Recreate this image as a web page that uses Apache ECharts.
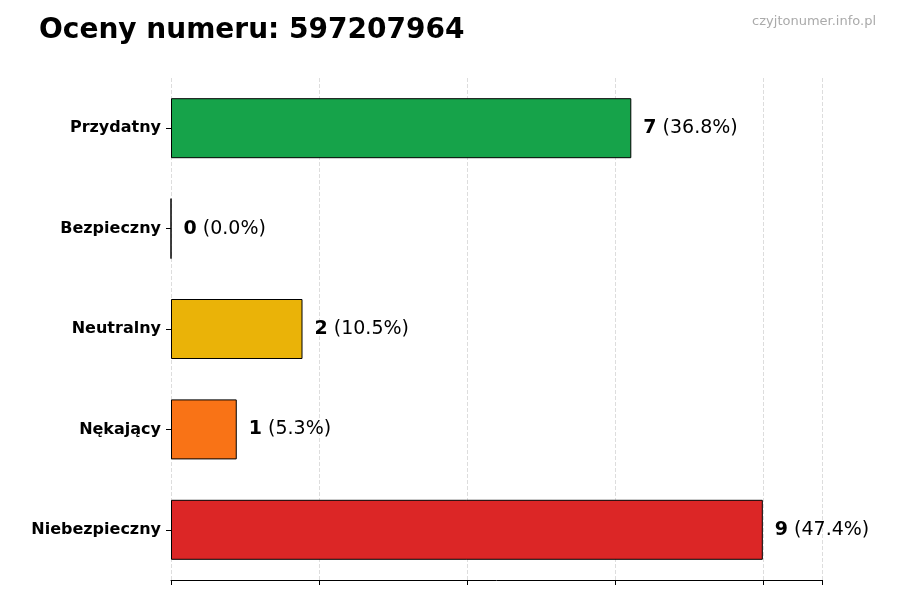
<!DOCTYPE html>
<html>
<head>
<meta charset="utf-8">
<script src="https://cdn.jsdelivr.net/npm/echarts@6/dist/echarts.min.js"></script>
<style>html,body{margin:0;background:#fff}#c{width:900px;height:600px}</style>
</head>
<body>
<div id="c"></div>
<script>
const kategorie = ['Przydatny', 'Bezpieczny', 'Neutralny', 'Nękający', 'Niebezpieczny'];
const liczby = [7, 0, 2, 1, 9];
const kolory = ['#16a34a', '#9ca3af', '#eab308', '#f97316', '#dc2626'];
const suma = liczby.reduce((a, b) => a + b, 0);

const chart = echarts.init(document.getElementById('c'));
chart.setOption({
  animation: false,
  title: [
    { text: 'Oceny numeru: 597207964', left: 34, top: 12,
      textStyle: { fontFamily: 'DejaVu Sans', fontSize: 28, fontWeight: 'bold', color: '#000' } },
    { text: 'czyjtonumer.info.pl', right: 19, top: 10,
      textStyle: { fontFamily: 'DejaVu Sans', fontSize: 13, fontWeight: 'normal', color: '#aaa' } }
  ],
  grid: { left: 171, right: 78, top: 78, bottom: 20 },
  xAxis: {
    type: 'value', min: 0, max: 9.9, interval: 2.25,
    axisLabel: { show: false },
    axisLine: { show: true, lineStyle: { color: '#000' } },
    axisTick: { show: true, length: 5, lineStyle: { color: '#000' } },
    splitLine: { show: true, lineStyle: { type: 'dashed', color: '#ddd' } }
  },
  yAxis: {
    type: 'category', inverse: true, data: kategorie,
    axisLine: { show: false },
    axisTick: { show: true, alignWithLabel: true, length: 5, lineStyle: { color: '#000' } },
    axisLabel: { fontFamily: 'DejaVu Sans', fontSize: 16, fontWeight: 'bold', color: '#000', margin: 10 }
  },
  series: [{
    type: 'bar', barWidth: 60,
    data: liczby.map((v, i) => ({ value: v, itemStyle: { color: kolory[i] } })),
    itemStyle: { borderColor: '#000', borderWidth: 1 },
    label: {
      show: true, position: 'right', distance: 12,
      formatter: p => '{b|' + p.value + '} (' + (p.value / suma * 100).toFixed(1) + '%)',
      fontFamily: 'DejaVu Sans', fontSize: 19, color: '#000',
      rich: { b: { fontFamily: 'DejaVu Sans', fontSize: 19, fontWeight: 'bold', color: '#000' } }
    }
  }]
});
</script>
</body>
</html>
